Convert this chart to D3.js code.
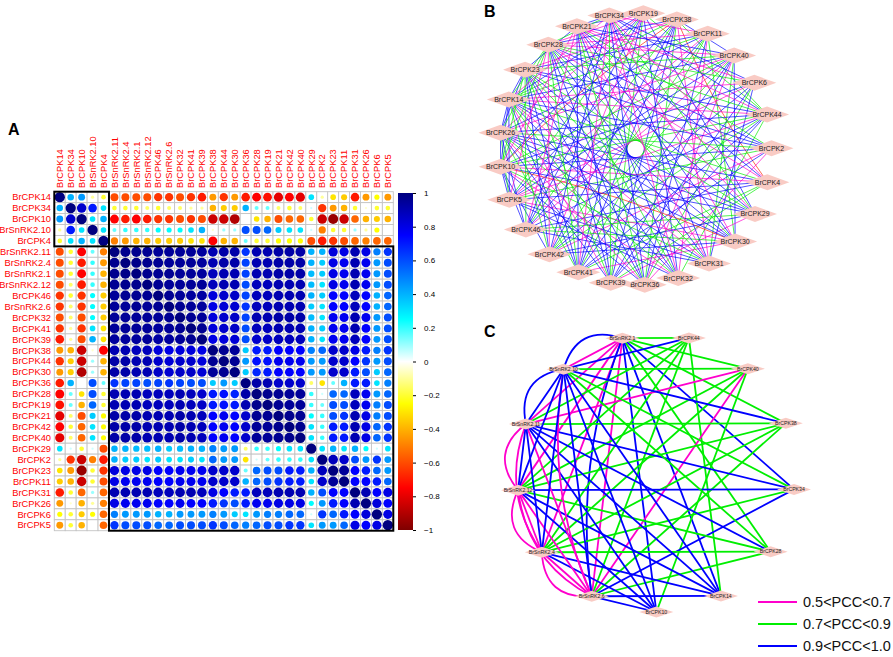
<!DOCTYPE html>
<html>
<head>
<meta charset="utf-8">
<script src="https://cdn.jsdelivr.net/npm/d3@7"></script>
<style>
  body { margin: 0; background: #fff; }
  svg { display: block; font-family: "Liberation Sans", Arial, sans-serif; }
</style>
</head>
<body>
<svg width="893" height="657"></svg>
<script>
// ---------- Panel A data: gene order and lower triangle of the correlation matrix ----------
var genes = ["BrCPK14", "BrCPK34", "BrCPK10", "BrSnRK2.10", "BrCPK4", "BrSnRK2.11", "BrSnRK2.4",
    "BrSnRK2.1", "BrSnRK2.12", "BrCPK46", "BrSnRK2.6", "BrCPK32", "BrCPK41", "BrCPK39", "BrCPK38",
    "BrCPK44", "BrCPK30", "BrCPK36", "BrCPK28", "BrCPK19", "BrCPK21", "BrCPK42", "BrCPK40",
    "BrCPK29", "BrCPK2", "BrCPK23", "BrCPK11", "BrCPK31", "BrCPK26", "BrCPK6", "BrCPK5"];

var corrLower = [
    [1],
    [0.4, 1],
    [0.45, 0.85, 1],
    [-0.1, 0.7, 0.3, 1],
    [-0.2, 0.3, 0.4, 0.3, 1],
    [-0.6, -0.2, -0.75, 0.15, -0.5, 1],
    [-0.6, -0.2, -0.7, 0.2, -0.45, 0.97, 1],
    [-0.6, -0.2, -0.75, 0.2, -0.4, 0.97, 0.98, 1],
    [-0.6, -0.15, -0.7, 0.2, -0.4, 0.96, 0.97, 0.97, 1],
    [-0.65, -0.2, -0.65, 0.25, -0.35, 0.95, 0.96, 0.96, 0.96, 1],
    [-0.65, -0.15, -0.65, 0.25, -0.35, 0.95, 0.95, 0.96, 0.95, 0.96, 1],
    [-0.6, -0.15, -0.6, 0.25, -0.35, 0.95, 0.95, 0.95, 0.95, 0.95, 0.96, 1],
    [-0.65, -0.1, -0.65, 0.3, -0.3, 0.95, 0.95, 0.95, 0.95, 0.94, 0.95, 0.96, 1],
    [-0.7, -0.1, -0.6, 0.4, -0.3, 0.94, 0.94, 0.94, 0.95, 0.93, 0.94, 0.95, 0.96, 1],
    [-0.45, -0.4, -0.85, -0.05, -0.75, 0.9, 0.9, 0.88, 0.88, 0.82, 0.8, 0.82, 0.82, 0.8, 1],
    [-0.65, -0.35, -0.85, 0.1, -0.4, 0.92, 0.92, 0.9, 0.9, 0.85, 0.83, 0.85, 0.85, 0.82, 0.96, 1],
    [-0.45, -0.35, -0.9, 0.1, -0.4, 0.92, 0.92, 0.9, 0.9, 0.86, 0.84, 0.86, 0.86, 0.83, 0.95, 0.96, 1],
    [-0.7, 0.4, 0, 0.6, 0.15, 0.65, 0.62, 0.62, 0.6, 0.62, 0.65, 0.62, 0.6, 0.6, 0.35, 0.45, 0.35, 1],
    [-0.75, 0.15, -0.3, 0.6, -0.2, 0.9, 0.9, 0.9, 0.88, 0.88, 0.88, 0.9, 0.88, 0.85, 0.7, 0.72, 0.68, 0.92, 1],
    [-0.72, 0.15, -0.4, 0.55, -0.2, 0.9, 0.9, 0.9, 0.88, 0.88, 0.88, 0.9, 0.88, 0.86, 0.7, 0.72, 0.7, 0.9, 0.97, 1],
    [-0.8, -0.15, -0.6, 0.35, -0.25, 0.92, 0.92, 0.92, 0.9, 0.9, 0.9, 0.92, 0.9, 0.88, 0.75, 0.78, 0.75, 0.85, 0.96, 0.96, 1],
    [-0.75, -0.2, -0.55, 0.3, -0.25, 0.92, 0.92, 0.92, 0.9, 0.9, 0.9, 0.92, 0.9, 0.88, 0.75, 0.78, 0.75, 0.85, 0.95, 0.95, 0.97, 1],
    [-0.8, -0.15, -0.55, 0.3, -0.25, 0.92, 0.92, 0.92, 0.9, 0.9, 0.9, 0.92, 0.9, 0.88, 0.75, 0.78, 0.75, 0.85, 0.95, 0.95, 0.96, 0.97, 1],
    [0.3, 0.05, -0.2, 0.05, -0.6, 0.4, 0.4, 0.38, 0.38, 0.4, 0.35, 0.38, 0.4, 0.4, 0.5, 0.45, 0.45, -0.15, 0.2, 0.2, 0.25, 0.3, 0.3, 1],
    [-0.1, -0.65, -0.85, -0.5, -0.7, 0.4, 0.35, 0.35, 0.3, 0.35, 0.3, 0.3, 0.35, 0.3, 0.55, 0.45, 0.45, -0.3, 0.05, 0.15, 0.2, 0.2, 0.2, 0.3, 1],
    [-0.3, -0.45, -0.95, -0.2, -0.65, 0.82, 0.8, 0.8, 0.8, 0.75, 0.75, 0.78, 0.78, 0.78, 0.85, 0.85, 0.85, 0.15, 0.55, 0.6, 0.6, 0.7, 0.7, 0.4, 0.88, 1],
    [-0.35, -0.4, -0.85, -0.2, -0.6, 0.8, 0.78, 0.78, 0.78, 0.75, 0.75, 0.78, 0.78, 0.78, 0.85, 0.85, 0.85, 0.4, 0.55, 0.6, 0.65, 0.7, 0.7, 0.3, 0.85, 0.95, 1],
    [-0.7, -0.2, -0.55, 0.1, -0.55, 0.9, 0.9, 0.9, 0.9, 0.88, 0.88, 0.9, 0.9, 0.88, 0.8, 0.75, 0.7, 0.7, 0.88, 0.88, 0.9, 0.9, 0.9, 0.4, 0.6, 0.75, 0.75, 1],
    [-0.45, -0.05, -0.4, -0.1, -0.5, 0.8, 0.78, 0.78, 0.78, 0.75, 0.75, 0.78, 0.75, 0.75, 0.7, 0.65, 0.6, 0.7, 0.78, 0.78, 0.8, 0.8, 0.8, 0.25, 0.45, 0.7, 0.75, 0.9, 1],
    [-0.25, -0.2, -0.35, -0.25, -0.55, 0.5, 0.45, 0.45, 0.45, 0.4, 0.4, 0.45, 0.45, 0.45, 0.5, 0.45, 0.35, 0.3, 0.45, 0.5, 0.5, 0.55, 0.55, 0.05, 0.65, 0.55, 0.7, 0.75, 0.82, 1],
    [-0.45, -0.2, -0.4, 0, -0.55, 0.65, 0.6, 0.6, 0.6, 0.55, 0.55, 0.6, 0.6, 0.6, 0.65, 0.6, 0.55, 0.5, 0.55, 0.6, 0.6, 0.65, 0.65, 0.3, 0.45, 0.45, 0.55, 0.8, 0.75, 0.8, 1]
];

// clusters outlined with black boxes (first and last gene of each)
var clusters = [["BrCPK14", "BrCPK4"], ["BrSnRK2.11", "BrCPK5"]];
var colorbarTicks = [1, 0.8, 0.6, 0.4, 0.2, 0, -0.2, -0.4, -0.6, -0.8, -1];

// ---------- Panel B data: nodes in circle order and edges [source, target, class] ----------
var nodesB = ["BrCPK19", "BrCPK38", "BrCPK11", "BrCPK40", "BrCPK6", "BrCPK44", "BrCPK2", "BrCPK4",
    "BrCPK29", "BrCPK30", "BrCPK31", "BrCPK32", "BrCPK36", "BrCPK39", "BrCPK41", "BrCPK42",
    "BrCPK46", "BrCPK5", "BrCPK10", "BrCPK26", "BrCPK14", "BrCPK23", "BrCPK28", "BrCPK21", "BrCPK34"];

var edgesB = [
    [0,5,"g"],[0,8,"b"],[0,11,"b"],[0,13,"g"],[0,14,"b"],[0,15,"m"],[0,16,"b"],[0,17,"g"],[0,18,"b"],[0,19,"m"],[0,20,"b"],[0,22,"m"],[0,23,"b"],[0,24,"g"],
    [1,3,"b"],[1,5,"g"],[1,7,"r"],[1,10,"m"],[1,12,"g"],[1,13,"b"],[1,14,"b"],[1,15,"b"],[1,16,"g"],[1,17,"b"],[1,18,"r"],[1,20,"g"],[1,21,"m"],[1,22,"b"],
    [2,9,"g"],[2,11,"m"],[2,12,"b"],[2,14,"g"],[2,15,"g"],[2,16,"b"],[2,17,"m"],[2,19,"b"],[2,20,"g"],[2,21,"b"],[2,22,"m"],[2,24,"m"],
    [3,9,"b"],[3,10,"g"],[3,12,"m"],[3,13,"b"],[3,14,"b"],[3,15,"g"],[3,16,"m"],[3,17,"b"],[3,18,"g"],[3,19,"m"],[3,20,"b"],[3,21,"g"],[3,22,"m"],[3,23,"b"],
    [4,10,"b"],[4,12,"g"],[4,13,"b"],[4,15,"b"],[4,17,"m"],[4,18,"b"],[4,20,"m"],[4,22,"g"],[4,23,"m"],[4,24,"b"],
    [5,11,"g"],[5,13,"b"],[5,14,"b"],[5,15,"g"],[5,16,"b"],[5,17,"m"],[5,18,"g"],[5,19,"b"],[5,20,"m"],[5,21,"b"],[5,22,"g"],[5,23,"m"],[5,24,"b"],
    [6,12,"m"],[6,14,"b"],[6,15,"m"],[6,17,"g"],[6,18,"b"],[6,19,"g"],[6,20,"b"],[6,21,"b"],[6,22,"b"],[6,23,"g"],
    [7,13,"g"],[7,14,"g"],[7,16,"b"],[7,17,"b"],[7,18,"m"],[7,19,"b"],[7,20,"g"],[7,22,"m"],[7,23,"b"],[7,24,"m"],
    [8,13,"m"],[8,15,"b"],[8,16,"g"],[8,18,"b"],[8,19,"b"],[8,20,"b"],[8,21,"g"],[8,22,"b"],[8,23,"m"],[8,24,"g"],
    [9,14,"m"],[9,15,"b"],[9,16,"g"],[9,17,"m"],[9,18,"r"],[9,19,"b"],[9,20,"b"],[9,21,"b"],[9,22,"g"],[9,23,"b"],[9,24,"m"],
    [10,16,"b"],[10,17,"b"],[10,18,"g"],[10,19,"b"],[10,20,"m"],[10,21,"g"],[10,22,"b"],[10,23,"m"],[10,24,"b"],
    [11,17,"b"],[11,18,"m"],[11,19,"g"],[11,20,"b"],[11,21,"b"],[11,22,"g"],[11,23,"b"],[11,24,"m"],
    [12,18,"b"],[12,19,"m"],[12,20,"g"],[12,21,"b"],[12,22,"b"],[12,23,"g"],[12,24,"b"],
    [13,19,"b"],[13,20,"m"],[13,21,"g"],[13,22,"b"],[13,23,"b"],[13,24,"g"],
    [14,19,"g"],[14,20,"b"],[14,21,"b"],[14,22,"g"],[14,23,"b"],[14,24,"m"],
    [15,18,"b"],[15,20,"g"],[15,21,"b"],[15,22,"m"],[15,24,"b"],
    [16,18,"b"],[16,19,"b"],[16,21,"g"],[16,23,"m"],[16,24,"b"],
    [17,18,"b"],[17,19,"g"],[17,20,"b"],[17,22,"m"],
    [18,19,"b"],[18,20,"b"],[18,21,"g"],[18,22,"g"],[18,23,"m"],
    [19,20,"b"],[19,21,"b"],[19,22,"g"],
    [20,21,"b"],[20,22,"g"],[20,24,"m"],
    [21,23,"b"],[22,24,"g"],[23,24,"b"]
];

// ---------- Panel C data ----------
var nodesC = ["BrSnRK2.1", "BrCPK44", "BrCPK40", "BrCPK38", "BrCPK34", "BrCPK28", "BrCPK14",
    "BrCPK10", "BrSnRK2.6", "BrSnRK2.4", "BrSnRK2.12", "BrSnRK2.11", "BrSnRK2.10"];

// repeated pairs are parallel edges (drawn as arcs)
var edgesC = [
    [0,1,"g"],[0,2,"g"],[0,3,"g"],[0,4,"b"],[0,5,"g"],[0,6,"b"],[0,7,"b"],[0,8,"m"],[0,9,"m"],[0,10,"m"],[0,11,"m"],[0,12,"m"],[0,12,"b"],[0,8,"b"],
    [1,12,"b"],[1,11,"g"],[1,10,"g"],[1,9,"g"],[1,8,"g"],[1,6,"g"],
    [2,12,"g"],[2,11,"m"],[2,10,"g"],[2,9,"g"],[2,8,"m"],[2,7,"g"],
    [3,12,"b"],[3,11,"g"],[3,10,"g"],[3,9,"g"],[3,8,"g"],
    [4,11,"b"],[4,10,"b"],[4,9,"g"],[4,8,"b"],[4,12,"g"],
    [5,9,"g"],[5,10,"g"],[5,8,"g"],[5,12,"g"],[5,11,"b"],
    [6,8,"b"],[6,9,"b"],[6,10,"b"],[6,11,"b"],[6,12,"b"],
    [7,8,"b"],[7,9,"b"],[7,10,"b"],[7,11,"b"],[7,12,"b"],
    [8,9,"m"],[8,9,"m"],[8,10,"m"],[8,10,"m"],[8,11,"m"],[8,12,"b"],[8,12,"m"],
    [9,10,"m"],[9,10,"m"],[9,11,"b"],[9,11,"m"],[9,12,"b"],
    [10,11,"b"],[10,11,"m"],[10,12,"b"],
    [11,12,"b"],[11,12,"b"]
];

var legendC = ["0.5<PCC<0.7", "0.7<PCC<0.9", "0.9<PCC<1.0"];

// ---------- Setup ----------
var svg = d3.select("svg");
var nodeFill = "#f9cbc4";

function corr(i, j) {
    return i >= j ? corrLower[i][j] : corrLower[j][i];
}

// panel letters
svg.selectAll(".panel")
    .data([["A", 8, 135], ["B", 484, 17], ["C", 484, 337]])
    .enter().append("text")
    .attr("x", function(d) { return d[1]; })
    .attr("y", function(d) { return d[2]; })
    .text(function(d) { return d[0]; })
    .style("font-size", "16px")
    .style("font-weight", "bold");

// ---------- Panel A ----------
var x = d3.scaleBand().domain(genes).range([54.3, 393.3]);
var y = d3.scaleBand().domain(genes).range([191.7, 530.7]);
var cell = x.bandwidth();

var colorScale = d3.scaleLinear()
    .domain([-1, -0.75, -0.5, -0.25, 0, 0.25, 0.5, 0.75, 1])
    .range(["#7F0000", "#FF0000", "#FF7F00", "#FFFF00", "#FFFFFF", "#00FFFF", "#007FFF", "#0000FF", "#00007F"]);

var rScale = d3.scaleSqrt().domain([0, 1]).range([0, cell * 0.47]);

var cells = [];
genes.forEach(function(gi, i) {
    genes.forEach(function(gj, j) {
        cells.push({ row: gi, col: gj, v: corr(i, j) });
    });
});

var gA = svg.append("g");

gA.selectAll(".cell")
    .data(cells)
    .enter().append("rect")
    .attr("x", function(d) { return x(d.col); })
    .attr("y", function(d) { return y(d.row); })
    .attr("width", cell)
    .attr("height", cell)
    .style("fill", "#fff")
    .style("stroke", "#c4c4c4")
    .style("stroke-width", 0.9);

gA.selectAll(".dot")
    .data(cells)
    .enter().append("circle")
    .attr("cx", function(d) { return x(d.col) + cell / 2; })
    .attr("cy", function(d) { return y(d.row) + cell / 2; })
    .attr("r", function(d) { return rScale(Math.abs(d.v)); })
    .style("fill", function(d) { return colorScale(d.v); });

// cluster boxes
gA.selectAll(".clus")
    .data(clusters)
    .enter().append("rect")
    .attr("x", function(d) { return x(d[0]); })
    .attr("y", function(d) { return y(d[0]); })
    .attr("width", function(d) { return x(d[1]) + cell - x(d[0]); })
    .attr("height", function(d) { return y(d[1]) + cell - y(d[0]); })
    .style("fill", "none")
    .style("stroke", "#000")
    .style("stroke-width", 2);

// row labels
gA.selectAll(".rowlab")
    .data(genes)
    .enter().append("text")
    .attr("x", 51)
    .attr("y", function(d) { return y(d) + cell / 2; })
    .attr("dy", "0.35em")
    .attr("text-anchor", "end")
    .text(function(d) { return d; })
    .style("fill", "#ff0000")
    .style("font-size", "9.3px");

// column labels
gA.selectAll(".collab")
    .data(genes)
    .enter().append("text")
    .attr("transform", function(d) { return "translate(" + (x(d) + cell / 2) + ",188) rotate(-90)"; })
    .attr("dy", "0.35em")
    .text(function(d) { return d; })
    .style("fill", "#ff0000")
    .style("font-size", "9.3px");

// colour bar
var cbScale = d3.scaleLinear().domain([-1, 1]).range([530, 193]);
var defs = svg.append("defs");
var grad = defs.append("linearGradient")
    .attr("id", "cbar")
    .attr("x1", 0).attr("y1", 1).attr("x2", 0).attr("y2", 0);
grad.selectAll("stop")
    .data(colorScale.domain())
    .enter().append("stop")
    .attr("offset", function(d) { return (d + 1) / 2; })
    .attr("stop-color", function(d) { return colorScale(d); });

gA.append("rect")
    .attr("x", 398)
    .attr("y", 193)
    .attr("width", 15)
    .attr("height", 337)
    .style("fill", "url(#cbar)");

var cbAxis = gA.append("g")
    .attr("transform", "translate(413,0)")
    .call(d3.axisRight(cbScale).tickValues(colorbarTicks).tickSize(3).tickPadding(8)
        .tickFormat(function(d) { return d === 0 ? "0" : d3.format("~g")(d).replace("-", "\u2212"); }));
cbAxis.select(".domain").remove();
cbAxis.selectAll("text").style("font-size", "8px").style("font-family", "Liberation Sans, Arial");

// ---------- network helpers ----------
var edgeColor = { b: "#0000ff", g: "#00ee00", m: "#ff00cc", r: "#ff2200" };

function ringLayout(names, cx, cy, R, startDeg) {
    var angle = d3.scaleLinear().domain([0, names.length]).range([startDeg, startDeg + 360]);
    return names.map(function(n, i) {
        var a = angle(i) * Math.PI / 180;
        return { name: n, x: cx + R * Math.sin(a), y: cy - R * Math.cos(a) };
    });
}

function drawNodes(g, pos, w, h, fs) {
    var ng = g.selectAll(".node")
        .data(pos)
        .enter().append("g")
        .attr("transform", function(d) { return "translate(" + d.x + "," + d.y + ")"; });
    ng.append("polygon")
        .attr("points", [[-w / 2, 0], [0, -h / 2], [w / 2, 0], [0, h / 2]].join(" "))
        .style("fill", nodeFill);
    ng.append("text")
        .text(function(d) { return d.name; })
        .attr("dy", "0.35em")
        .attr("text-anchor", "middle")
        .style("font-size", fs + "px")
        .style("fill", "#222");
}

// ---------- Panel B ----------
var posB = ringLayout(nodesB, 635.5, 149, 136, 3.3);
var gB = svg.append("g");

gB.selectAll(".edge")
    .data(edgesB)
    .enter().append("path")
    .attr("d", function(d) {
        var s = posB[d[0]], t = posB[d[1]];
        if (d[2] === "r") {
            // negative pairs drawn as slight arcs
            var mx = (s.x + t.x) / 2, my = (s.y + t.y) / 2;
            var dx = t.x - s.x, dy = t.y - s.y, L = Math.sqrt(dx * dx + dy * dy);
            var cx = mx - dy / L * 12, cy = my + dx / L * 12;
            return "M" + s.x + "," + s.y + "Q" + cx + "," + cy + " " + t.x + "," + t.y;
        }
        return "M" + s.x + "," + s.y + "L" + t.x + "," + t.y;
    })
    .style("fill", "none")
    .style("stroke", function(d) { return edgeColor[d[2]]; })
    .style("stroke-opacity", 0.68)
    .style("stroke-width", 1);

drawNodes(gB, posB, 44, 16, 7);

// ---------- Panel C ----------
var cC = [656, 473];
var posC = ringLayout(nodesC, cC[0], cC[1], 139, -14);
var gC = svg.append("g");

var seen = {};
edgesC.forEach(function(d) {
    var key = Math.min(d[0], d[1]) + "-" + Math.max(d[0], d[1]);
    seen[key] = (seen[key] || 0) + 1;
    d.rep = seen[key] - 1;
});

gC.selectAll(".edge")
    .data(edgesC)
    .enter().append("path")
    .attr("d", function(d) {
        var s = posC[d[0]], t = posC[d[1]];
        if (d.rep === 0) return "M" + s.x + "," + s.y + "L" + t.x + "," + t.y;
        var mx = (s.x + t.x) / 2, my = (s.y + t.y) / 2;
        var ox = mx - cC[0], oy = my - cC[1], L = Math.sqrt(ox * ox + oy * oy);
        var k = 34 * d.rep;
        return "M" + s.x + "," + s.y + "Q" + (mx + ox / L * k) + "," + (my + oy / L * k) + " " + t.x + "," + t.y;
    })
    .style("fill", "none")
    .style("stroke", function(d) { return edgeColor[d[2]]; })
    .style("stroke-width", 1.8);

drawNodes(gC, posC, 34, 11, 5.2);

// legend
var legG = svg.selectAll(".leg")
    .data(legendC)
    .enter().append("g")
    .attr("transform", function(d, i) { return "translate(758," + (602 + i * 22) + ")"; });
legG.append("line")
    .attr("x1", 0).attr("x2", 39)
    .style("stroke", function(d, i) { return edgeColor[["m", "g", "b"][i]]; })
    .style("stroke-width", 2);
legG.append("text")
    .attr("x", 45)
    .attr("dy", "0.35em")
    .text(function(d) { return d; })
    .style("font-size", "14.5px")
    .style("fill", "#111");
</script>
</body>
</html>
